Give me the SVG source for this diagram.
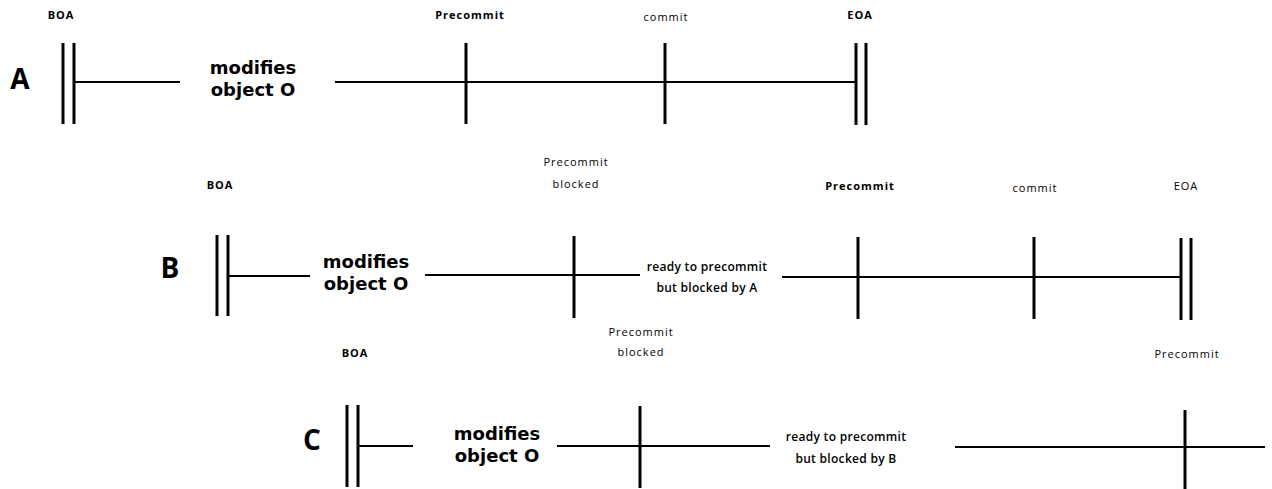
<svg xmlns="http://www.w3.org/2000/svg" width="1272" height="489" viewBox="0 0 1272 489">
<style>
.bar{stroke:#000;stroke-width:3;fill:none}
.ln{stroke:#000;stroke-width:2;fill:none}
.row{font-family:"Open Sans","DejaVu Sans",sans-serif;font-weight:700;font-size:28px;fill:#000;text-anchor:middle}
.lbl{font-family:"Open Sans","DejaVu Sans",sans-serif;font-weight:700;font-size:11px;letter-spacing:1px;fill:#000;text-anchor:middle}
.lbl2{font-family:"Open Sans","DejaVu Sans",sans-serif;font-weight:400;font-size:11px;letter-spacing:1px;fill:#000;text-anchor:middle}
.mid{font-family:"DejaVu Sans",sans-serif;font-weight:700;font-size:18px;fill:#000;text-anchor:middle}
.note{font-family:"Open Sans","DejaVu Sans",sans-serif;font-weight:600;font-size:12px;letter-spacing:0.3px;fill:#000;text-anchor:middle}
</style>
<rect width="1272" height="489" fill="#fff"/>
<g id="connectors">
<line class="ln" x1="74" y1="82" x2="180" y2="82"/>
<line class="ln" x1="335" y1="82" x2="856" y2="82"/>
<line class="ln" x1="228" y1="276" x2="310" y2="276"/>
<line class="ln" x1="425" y1="275" x2="640" y2="275"/>
<line class="ln" x1="782" y1="277" x2="1181" y2="277"/>
<line class="ln" x1="358" y1="446" x2="413" y2="446"/>
<line class="ln" x1="557" y1="446" x2="770" y2="446"/>
<line class="ln" x1="955" y1="447" x2="1265" y2="447"/>
</g>
<g id="rowA">
<g id="A-label"><text class="row" x="20" y="89">A</text></g>
<g id="A-BOA"><line class="bar" x1="63" y1="43" x2="63" y2="124"/><line class="bar" x1="74" y1="43" x2="74" y2="124"/><text class="lbl" x="61" y="19">BOA</text></g>
<g id="A-modifies"><text class="mid" x="253" y="74">modifies</text><text class="mid" x="253" y="96">object O</text></g>
<g id="A-precommit"><line class="bar" x1="466" y1="43" x2="466" y2="124"/><text class="lbl" x="470" y="19">Precommit</text></g>
<g id="A-commit"><line class="bar" x1="665" y1="43" x2="665" y2="124"/><text class="lbl2" x="666" y="21">commit</text></g>
<g id="A-EOA"><line class="bar" x1="856" y1="43" x2="856" y2="125"/><line class="bar" x1="866" y1="43" x2="866" y2="125"/><text class="lbl" x="860" y="19">EOA</text></g>
</g>
<g id="rowB">
<g id="B-label"><text class="row" x="170" y="278">B</text></g>
<g id="B-BOA"><line class="bar" x1="217" y1="235" x2="217" y2="316"/><line class="bar" x1="228" y1="235" x2="228" y2="316"/><text class="lbl" x="220" y="189">BOA</text></g>
<g id="B-modifies"><text class="mid" x="366" y="268">modifies</text><text class="mid" x="366" y="290">object O</text></g>
<g id="B-blocked"><line class="bar" x1="574" y1="236" x2="574" y2="318"/><text class="lbl2" x="576" y="166">Precommit</text><text class="lbl2" x="576" y="188">blocked</text></g>
<g id="B-ready"><text class="note" x="707" y="271">ready to precommit</text><text class="note" x="707" y="292">but blocked by A</text></g>
<g id="B-precommit"><line class="bar" x1="858" y1="237" x2="858" y2="319"/><text class="lbl" x="860" y="190">Precommit</text></g>
<g id="B-commit"><line class="bar" x1="1034" y1="237" x2="1034" y2="319"/><text class="lbl2" x="1035" y="192">commit</text></g>
<g id="B-EOA"><line class="bar" x1="1181" y1="238" x2="1181" y2="320"/><line class="bar" x1="1191" y1="238" x2="1191" y2="320"/><text class="lbl2" x="1186" y="190">EOA</text></g>
</g>
<g id="rowC">
<g id="C-label"><text class="row" x="312" y="450">C</text></g>
<g id="C-BOA"><line class="bar" x1="347" y1="405" x2="347" y2="487"/><line class="bar" x1="358" y1="405" x2="358" y2="487"/><text class="lbl" x="355" y="357">BOA</text></g>
<g id="C-modifies"><text class="mid" x="497" y="440">modifies</text><text class="mid" x="497" y="462">object O</text></g>
<g id="C-blocked"><line class="bar" x1="640" y1="406" x2="640" y2="488"/><text class="lbl2" x="641" y="336">Precommit</text><text class="lbl2" x="641" y="356">blocked</text></g>
<g id="C-ready"><text class="note" x="846" y="441">ready to precommit</text><text class="note" x="846" y="463">but blocked by B</text></g>
<g id="C-precommit"><line class="bar" x1="1185" y1="410" x2="1185" y2="489"/><text class="lbl2" x="1187" y="358">Precommit</text></g>
</g>
</svg>
